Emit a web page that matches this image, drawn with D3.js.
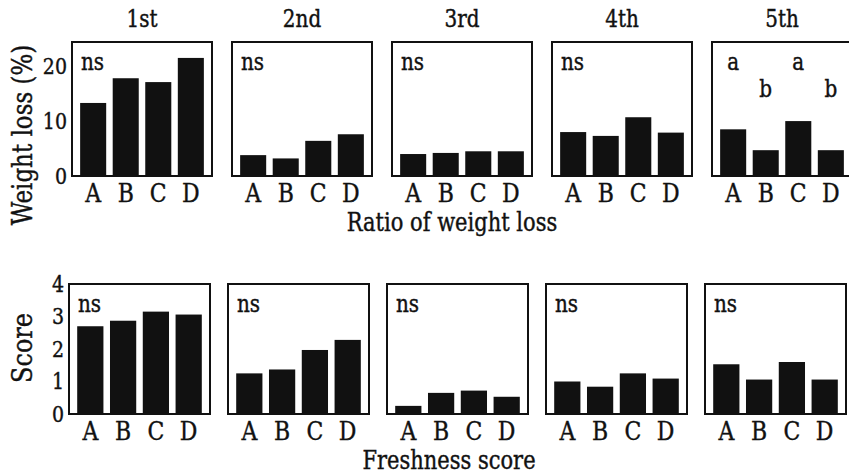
<!DOCTYPE html>
<html>
<head>
<meta charset="utf-8">
<script src="https://cdn.jsdelivr.net/npm/d3@7/dist/d3.min.js"></script>
<style>
  body { margin: 0; background: #fff; }
  svg text { font-family: "DejaVu Serif", "Liberation Serif", serif; fill: #111; stroke: #111; stroke-width: 0.35px; }
</style>
</head>
<body>
<svg width="849" height="475"></svg>
<script>
// treatments and storage sessions
var groups = ["A", "B", "C", "D"];
var sessions = ["1st", "2nd", "3rd", "4th", "5th"];

// ratio of weight loss (%) per session, A..D
var weightLoss = [
  [13.3, 17.8, 17.1, 21.5],
  [3.8, 3.2, 6.4, 7.6],
  [4.0, 4.2, 4.5, 4.5],
  [8.0, 7.3, 10.7, 7.9],
  [8.5, 4.7, 10.0, 4.7]
];
// freshness score per session, A..D
var freshness = [
  [2.7, 2.87, 3.15, 3.06],
  [1.25, 1.37, 1.97, 2.28],
  [0.25, 0.65, 0.72, 0.53],
  [1.0, 0.84, 1.25, 1.09],
  [1.53, 1.06, 1.6, 1.06]
];
// significance marks
var weightSig = ["ns", "ns", "ns", "ns", null];
var weightLetters5 = ["a", "b", "a", "b"];
var freshSig = ["ns", "ns", "ns", "ns", "ns"];

var weightTicks = [0, 10, 20];
var freshTicks = [0, 1, 2, 3, 4];

var svg = d3.select("svg");
var S = 1.2; // the scanned lettering is a bit taller than wide

// text placed at (x, y), stretched vertically
function label(parent, x, y, size, txt, rotate) {
  return parent.append("text")
      .attr("transform", "translate(" + x + "," + y + ")" + (rotate ? " rotate(-90)" : "") + " scale(1," + S + ")")
      .attr("font-size", size)
      .text(txt);
}

function drawRow(opt) {
  var y = d3.scaleLinear().domain(opt.domain).range([opt.bottom, opt.top]);

  opt.data.forEach(function(vals, i) {
    var left = opt.x0 + i * opt.step,
        right = left + opt.width;
    var x = d3.scaleBand().domain(groups).range([left, right])
        .paddingInner(0.2).paddingOuter(0.25);
    var g = svg.append("g");

    g.selectAll("rect.bar")
        .data(vals)
      .enter().append("rect")
        .attr("class", "bar")
        .attr("x", function(d, j) { return x(groups[j]); })
        .attr("width", x.bandwidth())
        .attr("y", function(d) { return y(d); })
        .attr("height", function(d) { return y(0) - y(d); })
        .attr("fill", "#111");

    // frame
    g.append("rect")
        .attr("x", left).attr("y", opt.top)
        .attr("width", opt.width).attr("height", opt.bottom - opt.top)
        .attr("fill", "none").attr("stroke", "#111").attr("stroke-width", 2);

    // category labels
    g.append("g")
        .attr("transform", "translate(0," + opt.bottom + ")")
        .call(d3.axisBottom(x).tickSize(0).tickPadding(6))
        .call(function(a) { a.select(".domain").remove(); })
        .selectAll("text")
        .attr("font-size", 22)
        .attr("font-family", null)
        .attr("transform", "scale(1," + S + ")");

    if (opt.titles) {
      label(g, (left + right) / 2, opt.top - 15, 20, opt.titles[i])
          .attr("text-anchor", "middle");
    }

    if (opt.sig[i]) {
      label(g, left + 9, opt.top + 28, 20, opt.sig[i]);
    } else if (opt.letters) {
      opt.letters.forEach(function(d, j) {
        label(g, x(groups[j]) + x.bandwidth() / 2, opt.top + (d === "a" ? 28 : 55), 20, d)
            .attr("text-anchor", "middle");
      });
    }

    if (i === 0) {
      svg.append("g")
          .attr("transform", "translate(" + left + ",0)")
          .call(d3.axisLeft(y).tickValues(opt.ticks).tickFormat(d3.format("d"))
              .tickSize(0).tickPadding(5))
          .call(function(a) { a.select(".domain").remove(); })
          .selectAll("text")
          .attr("font-size", 19)
          .attr("font-family", null)
          .attr("transform", "scale(1," + S + ")");
    }
  });

  label(svg, opt.yLabelX, opt.yLabelY, opt.yLabelSize, opt.yLabel, true)
      .attr("text-anchor", "middle");

  label(svg, opt.xLabelX, opt.xLabelY, 21, opt.xLabel)
      .attr("text-anchor", "middle");
}

drawRow({
  data: weightLoss, domain: [0, 24.4], ticks: weightTicks,
  x0: 72, step: 160, width: 140, top: 42, bottom: 176,
  titles: sessions, sig: weightSig, letters: weightLetters5,
  yLabel: "Weight loss (%)", yLabelX: 32, yLabelY: 135, yLabelSize: 23,
  xLabel: "Ratio of weight loss", xLabelX: 452, xLabelY: 231
});

drawRow({
  data: freshness, domain: [0, 4], ticks: freshTicks,
  x0: 69, step: 159, width: 141, top: 284, bottom: 414,
  titles: null, sig: freshSig, letters: null,
  yLabel: "Score", yLabelX: 32, yLabelY: 348, yLabelSize: 24,
  xLabel: "Freshness score", xLabelX: 449, xLabelY: 469
});
</script>
</body>
</html>
